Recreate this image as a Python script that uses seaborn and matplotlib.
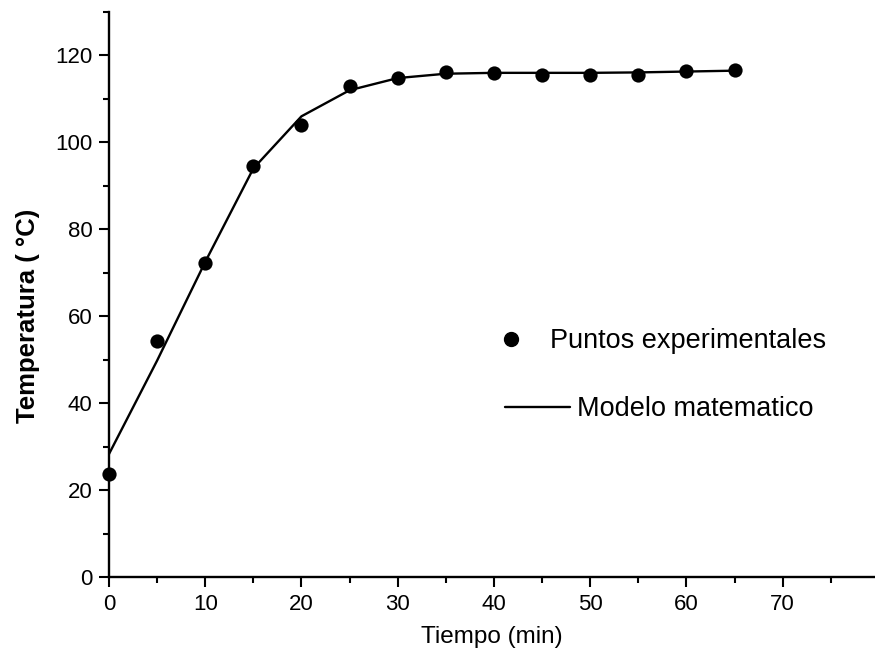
import matplotlib
matplotlib.use("Agg")
import matplotlib.pyplot as plt
from matplotlib.ticker import MultipleLocator
from matplotlib.lines import Line2D
import pandas as pd
import seaborn as sns

# Measured temperatures (every 5 minutes)
tiempo_exp = [0, 5, 10, 15, 20, 25, 30, 35, 40, 45, 50, 55, 60, 65]
temp_exp = [23.8, 54.3, 72.2, 94.5, 104.0, 113.0, 114.9, 116.2, 115.9, 115.6, 115.6, 115.6, 116.4, 116.6]

# Model prediction at the same times
tiempo_mod = [0, 5, 10, 15, 20, 25, 30, 35, 40, 45, 50, 55, 60, 65]
temp_mod = [28.3, 49.8, 72.5, 94.0, 106.0, 112.0, 114.8, 115.8, 116.0, 116.0, 116.0, 116.1, 116.3, 116.5]

exp_df = pd.DataFrame({"Tiempo": tiempo_exp, "Temperatura": temp_exp})
mod_df = pd.DataFrame({"Tiempo": tiempo_mod, "Temperatura": temp_mod})

sns.set_theme(style="ticks")
plt.rcParams["font.family"] = ["Liberation Sans", "DejaVu Sans"]
plt.rcParams["text.color"] = "black"
plt.rcParams["axes.labelcolor"] = "black"

fig = plt.figure(figsize=(8.75, 6.6), dpi=100)
ax = fig.add_axes([109 / 875, 1 - 577 / 660, 1 - 109 / 875, (577 - 12) / 660])

sns.lineplot(data=mod_df, x="Tiempo", y="Temperatura", ax=ax, color="black",
             linewidth=1.7, label="Modelo matematico", legend=False)
sns.scatterplot(data=exp_df, x="Tiempo", y="Temperatura", ax=ax, color="black",
                s=105, edgecolor="black", linewidth=0, label="Puntos experimentales",
                legend=False, clip_on=False, zorder=3)

ax.set_xlim(0, 79.6)
ax.set_ylim(0, 130)
ax.xaxis.set_major_locator(MultipleLocator(10))
ax.xaxis.set_minor_locator(MultipleLocator(5))
ax.yaxis.set_major_locator(MultipleLocator(20))
ax.yaxis.set_minor_locator(MultipleLocator(10))
ax.tick_params(which="major", direction="out", length=7, width=1.5, labelsize=16,
               colors="black", labelcolor="black", pad=5)
ax.tick_params(which="minor", direction="out", length=4, width=1.5, colors="black")

sns.despine(ax=ax)
for side in ("left", "bottom"):
    ax.spines[side].set_linewidth(1.7)
    ax.spines[side].set_color("black")

ax.set_xlabel("Tiempo (min)", fontsize=17.5, labelpad=8)
ax.set_ylabel("Temperatura ( °C)", fontsize=18.5, fontweight="bold")
ax.yaxis.set_label_coords(-0.09, 0.462)

# Two-entry legend, drawn as two pieces so marker and line sit where wanted
h_pts = Line2D([], [], marker="o", linestyle="none", color="black", markersize=10)
h_mod = Line2D([], [], color="black", linewidth=1.7)
leg1 = fig.legend([h_pts], ["Puntos experimentales"], loc="center left",
                  bbox_to_anchor=(497.5 / 875, 1 - 341 / 660), frameon=False,
                  fontsize=19.5, handlelength=1.0, handletextpad=0.95,
                  borderpad=0, borderaxespad=0)
leg2 = fig.legend([h_mod], ["Modelo matematico"], loc="center left",
                  bbox_to_anchor=(505 / 875, 1 - 409 / 660), frameon=False,
                  fontsize=19.5, handlelength=2.4, handletextpad=0.26,
                  borderpad=0, borderaxespad=0)

fig.savefig("out.png", dpi=100)
